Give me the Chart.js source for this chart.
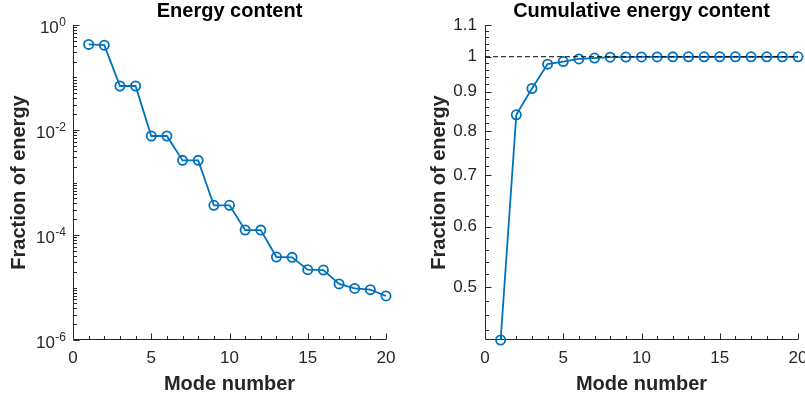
<!DOCTYPE html>
<html>
<head>
<meta charset="utf-8">
<title>Mode energy content</title>
<script src="https://cdn.jsdelivr.net/npm/chart.js@4.4.1/dist/chart.umd.min.js"></script>
<style>
  html, body { margin: 0; padding: 0; background: #fff; }
  #wrap { position: relative; width: 805px; height: 400px; overflow: hidden; }
  #left { position: absolute; left: 0; top: 0; }
  #right { position: absolute; left: 405px; top: 0; }
</style>
</head>
<body>
<div id="wrap">
  <canvas id="left" width="405" height="400"></canvas>
  <canvas id="right" width="400" height="400"></canvas>
</div>
<script>
// energy fraction per POD mode, and the running total
const modes = [1, 2, 3, 4, 5, 6, 7, 8, 9, 10, 11, 12, 13, 14, 15, 16, 17, 18, 19, 20];
const energy = [0.427, 0.413, 0.0689, 0.0689, 0.00769, 0.00769, 0.00264, 0.00264,
  3.68e-4, 3.68e-4, 1.245e-4, 1.24e-4, 3.81e-5, 3.75e-5, 2.19e-5, 2.15e-5,
  1.17e-5, 9.6e-6, 9.1e-6, 6.9e-6];
const cumulative = [0.427, 0.840, 0.909, 0.978, 0.9857, 0.9934, 0.9960, 0.9987,
  0.9991, 0.9994, 0.99955, 0.99967, 0.99971, 0.99975, 0.99977, 0.99979,
  0.99980, 0.99981, 0.99982, 0.99983];
const xTicks = [0, 5, 10, 15, 20];
const energyExponents = [0, -2, -4, -6];
const cumulativeTicks = [0.5, 0.6, 0.7, 0.8, 0.9, 1, 1.1];

const BLUE = '#0072BD';
const AXIS = '#262626';
const FONT = '"Liberation Sans", Arial, Helvetica, sans-serif';

// minor tick positions
const energyMinor = [];
for (let k = -6; k < 0; k++) {
  for (let m = 1; m <= 9; m++) {
    const v = m * Math.pow(10, k);
    if (!(m === 1 && energyExponents.includes(k))) energyMinor.push(v);
  }
}
const cumulativeMinor = [];
for (let i = 22; i <= 54; i++) {
  const v = i / 50;
  if (i % 5 !== 0) cumulativeMinor.push(v);
}

// axis lines and inward ticks, drawn under the data
const axesFrame = {
  id: 'axesFrame',
  beforeDatasetsDraw(chart, args, opts) {
    const {ctx, chartArea: a, scales: {x, y}} = chart;
    const L = Math.round(a.left) + 0.5;
    const B = Math.round(a.bottom) - 0.5;
    ctx.save();
    ctx.strokeStyle = AXIS;
    ctx.lineWidth = 1;
    ctx.beginPath();
    ctx.moveTo(L, a.top);
    ctx.lineTo(L, B);
    ctx.lineTo(a.right, B);
    for (let v = 0; v <= 20; v++) {
      const px = Math.round(x.getPixelForValue(v)) + 0.5;
      const len = xTicks.includes(v) ? 6 : 3.5;
      ctx.moveTo(px, B);
      ctx.lineTo(px, B - len);
    }
    opts.yMajor.forEach(v => {
      const py = Math.round(y.getPixelForValue(v)) + 0.5;
      ctx.moveTo(L, py);
      ctx.lineTo(L + 6, py);
    });
    opts.yMinor.forEach(v => {
      const py = Math.round(y.getPixelForValue(v)) + 0.5;
      ctx.moveTo(L, py);
      ctx.lineTo(L + 3.5, py);
    });
    ctx.stroke();
    ctx.restore();
  }
};

// 10^k labels with a raised exponent
const powerLabels = {
  id: 'powerLabels',
  afterDraw(chart) {
    const {ctx, chartArea: a, scales: {y}} = chart;
    ctx.save();
    ctx.fillStyle = AXIS;
    ctx.textAlign = 'right';
    energyExponents.forEach(e => {
      const py = y.getPixelForValue(Math.pow(10, e));
      const right = a.left - 7;
      const sup = String(e);
      ctx.font = '12px ' + FONT;
      ctx.textBaseline = 'alphabetic';
      const w = ctx.measureText(sup).width;
      ctx.fillText(sup, right, py + 1);
      ctx.font = '17px ' + FONT;
      ctx.textBaseline = 'middle';
      ctx.fillText('10', right - w - 0.5, py + 3.5);
    });
    ctx.restore();
  }
};

function xScale() {
  return {
    type: 'linear', min: 0, max: 20,
    grid: { display: false, drawTicks: false },
    border: { display: false },
    afterBuildTicks: s => { s.ticks = xTicks.map(v => ({value: v})); },
    afterFit: s => { s.height = 60; s.paddingLeft = 0; s.paddingRight = 0; },
    ticks: { color: AXIS, padding: 8, font: { family: FONT, size: 17 }, maxRotation: 0, autoSkip: false },
    title: { display: true, text: 'Mode number', color: AXIS,
      font: { family: FONT, size: 20, weight: 'bold', lineHeight: 1.2 }, padding: { top: 0, bottom: 4 } }
  };
}

function seriesStyle(values) {
  return {
    data: modes.map((m, i) => ({x: m, y: values[i]})),
    borderColor: BLUE, borderWidth: 1.8,
    pointRadius: 4.6, pointBorderWidth: 1.8,
    pointBorderColor: BLUE, pointBackgroundColor: 'rgba(0,0,0,0)',
    tension: 0, clip: false
  };
}

function titleOpts(text) {
  return { display: true, text, color: '#000', fullSize: false,
    font: { family: FONT, size: 20, weight: 'bold', lineHeight: 1 }, padding: { top: 1, bottom: 4 } };
}

new Chart(document.getElementById('left'), {
  type: 'line',
  data: { datasets: [seriesStyle(energy)] },
  options: {
    responsive: false, animation: false, events: [],
    layout: { padding: { left: 0, right: 19, top: 0, bottom: 0 } },
    scales: {
      x: xScale(),
      y: {
        type: 'logarithmic', min: 1e-6, max: 1,
        grid: { display: false, drawTicks: false },
        border: { display: false },
        ticks: { display: false },
        afterFit: s => { s.width = 73; s.paddingTop = 0; s.paddingBottom = 0; },
        title: { display: true, text: 'Fraction of energy', color: AXIS,
          font: { family: FONT, size: 20, weight: 'bold', lineHeight: 1.2 }, padding: { top: 7.5, bottom: 0 } }
      }
    },
    plugins: {
      legend: { display: false }, tooltip: { enabled: false },
      title: titleOpts('Energy content'),
      axesFrame: { yMajor: energyExponents.map(e => Math.pow(10, e)), yMinor: energyMinor }
    }
  },
  plugins: [axesFrame, powerLabels]
});

new Chart(document.getElementById('right'), {
  type: 'line',
  data: {
    datasets: [
      { data: [{x: 0, y: 1}, {x: 20, y: 1}], borderColor: '#000', borderWidth: 1,
        borderDash: [5, 3], pointRadius: 0, tension: 0 },
      seriesStyle(cumulative)
    ]
  },
  options: {
    responsive: false, animation: false, events: [],
    layout: { padding: { left: 0, right: 7, top: 0, bottom: 0 } },
    scales: {
      x: xScale(),
      y: {
        type: 'logarithmic', min: cumulative[0], max: 1.1,
        grid: { display: false, drawTicks: false },
        border: { display: false },
        afterBuildTicks: s => { s.ticks = cumulativeTicks.map(v => ({value: v})); },
        afterFit: s => { s.width = 80; s.paddingTop = 0; s.paddingBottom = 0; },
        ticks: { color: AXIS, padding: 8, autoSkip: false, font: { family: FONT, size: 17 },
          callback: v => String(v) },
        title: { display: true, text: 'Fraction of energy', color: AXIS,
          font: { family: FONT, size: 20, weight: 'bold', lineHeight: 1.2 }, padding: { top: 22.7, bottom: 0 } }
      }
    },
    plugins: {
      legend: { display: false }, tooltip: { enabled: false },
      title: titleOpts('Cumulative energy content'),
      axesFrame: { yMajor: cumulativeTicks, yMinor: cumulativeMinor }
    }
  },
  plugins: [axesFrame]
});
</script>
</body>
</html>
